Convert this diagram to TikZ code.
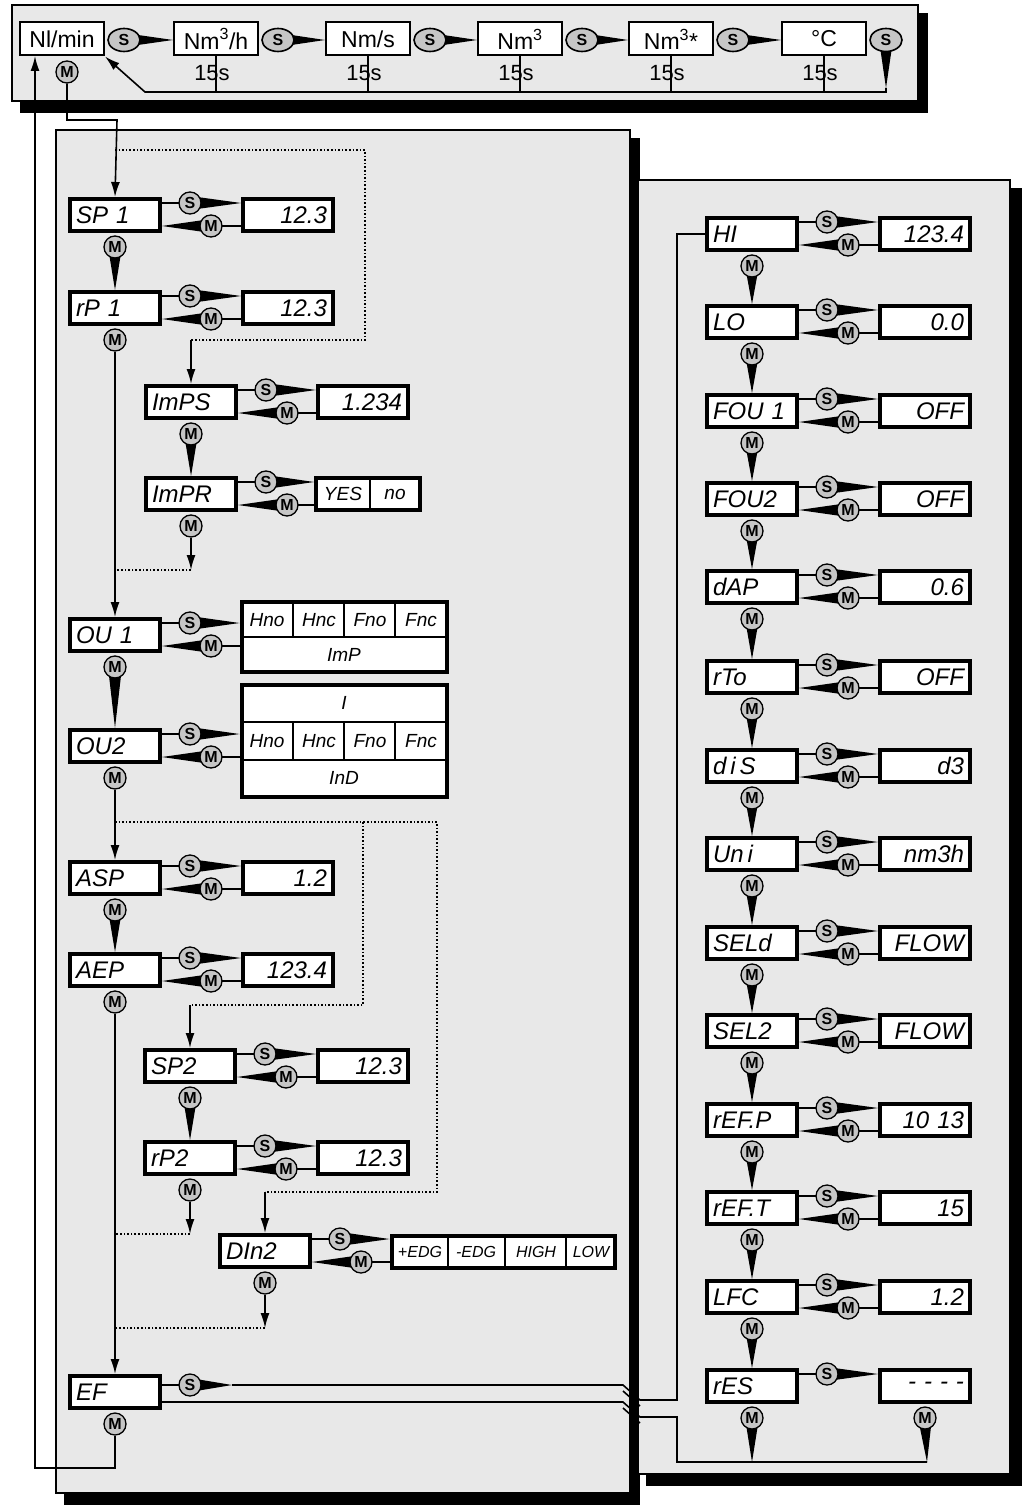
\documentclass[tikz,border=0pt]{standalone}
\usepackage{fontspec}
\setsansfont{Liberation Sans}
\usetikzlibrary{shapes.geometric,calc,arrows.meta}
\definecolor{panel}{gray}{0.91}
\newcommand{\wdg}[2]{\fill ($(#1)!7pt!90:(#2)$) -- ($(#1)!7pt!-90:(#2)$) -- (#2) -- cycle;}
\newcommand{\smlink}[2]{%
\coordinate (#1-s) at ($(#1.east)+(28,-12)$);
\coordinate (#1-m) at ($(#1.east)+(49,11)$);
\coordinate (#1-st) at (#2.west|-#1-s);
\coordinate (#1-mt) at (#1.east|-#1-m);
\draw (#1.east|-#1-s) -- (#1-s);
\draw (#1-m) -- (#2.west|-#1-m);
\wdg{#1-s}{#1-st}
\wdg{#1-m}{#1-mt}
\node[btn] at (#1-s) {S};
\node[btn] at (#1-m) {M};}
\newcommand{\mdown}[2]{%
\coordinate (#1-d) at ($(#1.south)+(0,14)$);
\coordinate (#2-n) at (#2.north);
\wdg{#1-d}{#2-n}
\node[btn] at (#1-d) {M};}
\tikzset{
  disp/.style={draw,line width=4pt,fill=white,minimum height=32pt,text width=78pt,
    inner xsep=6pt,font=\sffamily\itshape\fontsize{24}{24}\selectfont},
  val/.style={disp,align=right},
  btn/.style={circle,draw,fill=gray!45,inner sep=0pt,minimum size=22pt,line width=1.3pt,
    font=\sffamily\bfseries\fontsize{16}{16}\selectfont},
  unit/.style={draw,line width=2pt,fill=white,minimum width=84pt,minimum height=33pt,
    font=\sffamily\fontsize{23}{23}\selectfont},
  opt/.style={font=\sffamily\itshape\fontsize{19}{19}\selectfont},
  box/.style={draw,line width=4pt,fill=white},
  flow/.style={-{Latex[length=15pt,width=9pt]}},
}
\begin{document}
\begin{tikzpicture}[x=1pt,y=-1pt,line width=1.6pt]
\useasboundingbox (0,0) rectangle (1026,1506);
% panels
\fill[black] (20,13) rectangle (928,113);
\filldraw[fill=panel] (12,5) rectangle (918,101);
\fill[black] (64,138) rectangle (640,1505);
\filldraw[fill=panel] (56,130) rectangle (630,1493);
\fill[black] (646,188) rectangle (1022,1486);
\filldraw[fill=panel] (638,180) rectangle (1010,1474);
% top menu
\node[unit] (nl) at (62,39) {Nl/min};
\node[unit] (nmh) at (216,39) {Nm\textsuperscript{3}/h};
\node[unit] (nms) at (368,39) {Nm/s};
\node[unit] (nm) at (520,39) {Nm\textsuperscript{3}};
\node[unit] (nmx) at (671,39) {Nm\textsuperscript{3}*};
\node[unit] (deg) at (824,39) {°C};
\foreach \a/\b [count=\i] in {nl/nmh,nmh/nms,nms/nm,nm/nmx,nmx/deg}{
  \coordinate (s\i) at ($(\a.east)+(19,1)$);
  \coordinate (t\i) at (\b.west|-s\i);
  \wdg{s\i}{t\i}
  \node[ellipse,draw,fill=gray!45,minimum width=32pt,minimum height=23pt,inner sep=0pt,
    font=\sffamily\bfseries\fontsize{16}{16}\selectfont] at (s\i) {S};
  \draw (\b.south) -- (\b.south|-0,92);
  \node[font=\sffamily\fontsize{22}{22}\selectfont] at ($(\b.south)+(-4,17)$) {15s};
}
\coordinate (s6) at (886,40);
\coordinate (t6) at (886,88);
\wdg{s6}{t6}
\node[ellipse,draw,fill=gray!45,minimum width=32pt,minimum height=23pt,inner sep=0pt,
  font=\sffamily\bfseries\fontsize{16}{16}\selectfont] at (s6) {S};
\draw[flow] (t6) -- (886,92) -- (145,92) -- (nl.south east);
% left column
\node[disp] (sp1) at (115,215) {SP 1};
\node[val] (sp1v) at (288,215) {12.3};
\node[disp] (rp1) at (115,308) {rP 1};
\node[val] (rp1v) at (288,308) {12.3};
\node[disp] (imps) at (191,402) {ImPS};
\node[val] (impsv) at (363,402) {1.234};
\node[disp] (impr) at (191,494) {ImPR};
\node[box,minimum width=104pt,minimum height=32pt] (imprv) at (368,494) {};
\draw (370,479) -- (370,510);
\node[opt] at (343,494) {YES};
\node[opt] at (395,494) {no};
\node[disp] (ou1) at (115,635) {OU 1};
\node[box,minimum width=205pt,minimum height=70pt] (ou1v) at (344,637) {};
\node[disp] (ou2) at (115,746) {OU2};
\node[box,minimum width=205pt,minimum height=112pt] (ou2v) at (344,741) {};
\draw (242,637) -- (447,637);
\draw (242,722) -- (447,722) (242,760) -- (447,760);
\foreach \x/\t [count=\i] in {267/Hno,319/Hnc,370/Fno,421/Fnc}{
  \node[opt] at (\x,620) {\t};
  \node[opt] at (\x,741) {\t};
  \ifnum\i>1 \draw (\x-26,603) -- (\x-26,637) (\x-26,722) -- (\x-26,760); \fi
}
\node[opt] at (344,655) {ImP};
\node[opt] at (344,703) {I};
\node[opt] at (344,778) {InD};
\node[disp] (asp) at (115,878) {ASP};
\node[val] (aspv) at (288,878) {1.2};
\node[disp] (aep) at (115,970) {AEP};
\node[val] (aepv) at (288,970) {123.4};
\node[disp] (sp2) at (190,1066) {SP2};
\node[val] (sp2v) at (363,1066) {12.3};
\node[disp] (rp2) at (190,1158) {rP2};
\node[val] (rp2v) at (363,1158) {12.3};
\node[disp] (din2) at (265,1251) {DIn2};
\node[box,minimum width=223pt,minimum height=32pt] (din2v) at (503,1252) {};
\foreach \x/\t in {420/+EDG,476/-EDG,536/HIGH,591/LOW}{
  \node[opt,font=\sffamily\itshape\fontsize{16}{16}\selectfont] at (\x,1252) {\t};
}
\draw (448,1236) -- (448,1268) (505,1236) -- (505,1268) (566,1236) -- (566,1268);
\node[disp] (ef) at (115,1392) {EF};
\foreach \a/\b in {sp1/sp1v,rp1/rp1v,imps/impsv,impr/imprv,ou1/ou1v,ou2/ou2v,
  asp/aspv,aep/aepv,sp2/sp2v,rp2/rp2v,din2/din2v}{\smlink{\a}{\b}}
\mdown{sp1}{rp1}
\mdown{imps}{impr}
\mdown{ou1}{ou2}
\mdown{asp}{aep}
\mdown{sp2}{rp2}
% main solid flow
\node[btn] (nlm) at (67,72) {M};
\draw[flow] (nlm) -- (67,120) -- (117,120) -- (sp1.north);
\node[btn] (rp1m) at ($(rp1.south)+(0,14)$) {M};
\draw[flow] (rp1m) -- (ou1.north);
\node[btn] (ou2m) at ($(ou2.south)+(0,14)$) {M};
\draw[flow] (ou2m) -- (asp.north);
\node[btn] (aepm) at ($(aep.south)+(0,14)$) {M};
\draw[flow] (aepm) -- (ef.north);
\node[btn] (efm) at ($(ef.south)+(0,14)$) {M};
\draw[flow] (efm) -- (115,1468) -- (35,1468) -- (35,56);
% optional branches
\draw[dotted] (115,150) -- (365,150) -- (365,340) -- (191,340);
\draw[flow] (191,340) -- (imps.north);
\node[btn] (imprm) at ($(impr.south)+(0,14)$) {M};
\draw[flow] (imprm) -- (191,570);
\draw[dotted] (191,570) -- (115,570);
\draw[dotted] (115,822) -- (437,822) -- (437,1192) -- (265,1192);
\draw[dotted] (363,822) -- (363,1005) -- (190,1005);
\draw[flow] (190,1005) -- (sp2.north);
\draw[flow] (265,1192) -- (din2.north);
\node[btn] (rp2m) at ($(rp2.south)+(0,14)$) {M};
\draw[flow] (rp2m) -- (190,1234);
\draw[dotted] (190,1234) -- (115,1234);
\node[btn] (din2m) at ($(din2.south)+(0,14)$) {M};
\draw[flow] (din2m) -- (265,1328);
\draw[dotted] (265,1328) -- (115,1328);
% EF to right column
\coordinate (efs) at ($(ef.east)+(28,-7)$);
\coordinate (eft) at ($(efs)+(42,0)$);
\draw (ef.east|-efs) -- (efs);
\wdg{efs}{eft}
\node[btn] at (efs) {S};
% right column
\foreach \t/\v/\y [count=\i] in {HI/123.4/234,LO/0.0/322,FOU 1/OFF/411,FOU2/OFF/499,
  dAP/0.6/587,rTo/OFF/677,d{\,}i{\,}S/d3/766,Un{\,}i/nm3h/854,SELd/FLOW/943,
  SEL2/FLOW/1031,rEF.P/10 13/1120,rEF.T/15/1208,LFC/1.2/1297,rES/- - - -/1386}{
  \node[disp] (r\i) at (752,\y) {\t};
  \node[val] (r\i v) at (925,\y) {\v};
}
\foreach \i in {1,...,13}{\smlink{r\i}{r\i v}}
\foreach \i [evaluate=\i as \j using int(\i+1)] in {1,...,13}{\mdown{r\i}{r\j}}
\coordinate (r14-s) at ($(r14.east)+(28,-12)$);
\coordinate (r14-st) at (r14v.west|-r14-s);
\draw (r14.east|-r14-s) -- (r14-s);
\wdg{r14-s}{r14-st}
\node[btn] at (r14-s) {S};
\coordinate (r14-d) at ($(r14.south)+(0,14)$);
\coordinate (r14-e) at (752,1462);
\wdg{r14-d}{r14-e}
\node[btn] at (r14-d) {M};
\coordinate (r14v-d) at ($(r14v.south)+(0,14)$);
\coordinate (r14v-e) at (927,1462);
\wdg{r14v-d}{r14v-e}
\node[btn] at (r14v-d) {M};
\draw (eft) -- (623,1385) -- (640,1400) -- (677,1400) -- (677,234) -- (r1.west);
\draw (ef.east|-0,1402) -- (623,1402) -- (640,1417) -- (677,1417) -- (677,1462) -- (r14v-e);
\draw (623,1391) -- (640,1406) (623,1408) -- (640,1423);
\end{tikzpicture}
\end{document}
